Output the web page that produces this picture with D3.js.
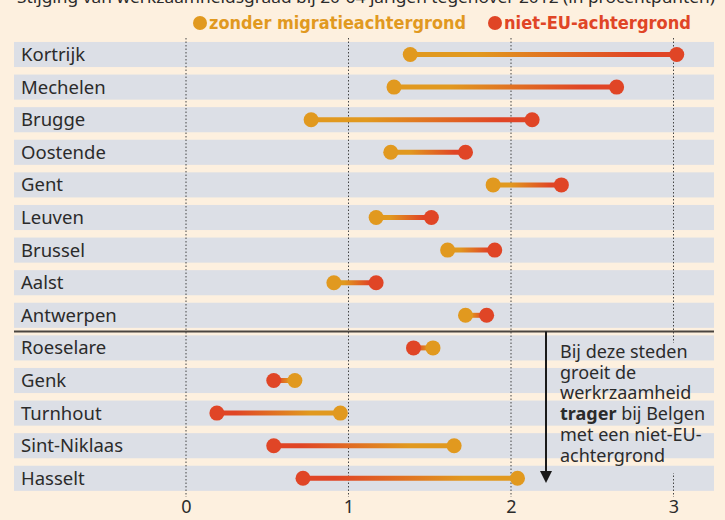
<!DOCTYPE html>
<html>
<head>
<meta charset="utf-8">
<script src="https://cdn.jsdelivr.net/npm/d3@7"></script>
<style>
  body { margin: 0; background: #fdf0df; }
  svg { display: block; }
</style>
</head>
<body>
<svg id="chart" width="725" height="520"></svg>
<script>
// data
const cities = ['Kortrijk', 'Mechelen', 'Brugge', 'Oostende', 'Gent', 'Leuven', 'Brussel', 'Aalst', 'Antwerpen',
  'Roeselare', 'Genk', 'Turnhout', 'Sint-Niklaas', 'Hasselt'];
const zonderMigratie = [1.38, 1.28, 0.77, 1.26, 1.89, 1.17, 1.61, 0.91, 1.72, 1.52, 0.67, 0.95, 1.65, 2.04];
const nietEU = [3.02, 2.65, 2.13, 1.72, 2.31, 1.51, 1.90, 1.17, 1.85, 1.40, 0.54, 0.19, 0.54, 0.72];
const xTicks = [0, 1, 2, 3];
const splitAfter = 'Antwerpen';

const orange = '#e1991f';
const red = '#e04526';
const textCol = '#2b2b2b';

const svg = d3.select('#chart');
const W = 725, H = 520;

const x = d3.scaleLinear().domain([0, 3]).range([186, 673.5]);
const y = d3.scaleBand().domain(cities).range([38.2, 494.6]).paddingInner(0.23).paddingOuter(0.115);

const rowLeft = 14, rowRight = 714;

// title (cut off at the top, as in the source)
svg.append('text')
  .attr('x', 17).attr('y', 3)
  .style('font-family', 'Noto Sans').style('font-size', '17px').style('fill', textCol)
  .attr('textLength', 698).attr('lengthAdjust', 'spacingAndGlyphs')
  .text('Stijging van werkzaamheidsgraad bij 20-64 jarigen tegenover 2012 (in procentpunten)');

// legend
const legend = [
  { label: 'zonder migratieachtergrond', color: orange, x: 200, w: 257 },
  { label: 'niet-EU-achtergrond', color: red, x: 495, w: 187 }
];
legend.forEach(l => {
  svg.append('circle').attr('cx', l.x).attr('cy', 23).attr('r', 7).style('fill', l.color);
  svg.append('text')
    .attr('x', l.x + 9).attr('y', 29)
    .attr('textLength', l.w).attr('lengthAdjust', 'spacingAndGlyphs')
    .style('font-family', "'DejaVu Sans Condensed', 'Liberation Sans Narrow', 'Noto Sans'")
    .style('font-weight', 'bold')
    .style('font-size', '18px').style('fill', l.color)
    .text(l.label);
});

// row bands
svg.append('g').selectAll('rect')
  .data(cities)
  .enter().append('rect')
  .attr('x', rowLeft).attr('width', rowRight - rowLeft)
  .attr('y', d => y(d)).attr('height', y.bandwidth())
  .style('fill', '#dcdfe6');

// gridlines, interrupted by the annotation
const defs = svg.append('defs');
const clip = defs.append('clipPath').attr('id', 'grid-clip');
clip.append('rect').attr('x', 0).attr('y', 0).attr('width', W).attr('height', 343);
clip.append('rect').attr('x', 0).attr('y', 473).attr('width', W).attr('height', H - 473);
clip.append('rect').attr('x', 0).attr('y', 0).attr('width', 550).attr('height', H);

svg.append('g')
  .attr('clip-path', 'url(#grid-clip)')
  .selectAll('line')
  .data(xTicks)
  .enter().append('line')
  .attr('x1', d => x(d)).attr('x2', d => x(d))
  .attr('y1', 38).attr('y2', 497)
  .style('stroke', '#444').style('stroke-width', 1).style('stroke-dasharray', '1.5,2');

// x axis labels
svg.append('g')
  .attr('transform', 'translate(0,513)')
  .call(d3.axisBottom(x).tickValues(xTicks).tickSize(0).tickPadding(0).tickFormat(d3.format('d')))
  .call(g => g.select('.domain').remove())
  .call(g => g.selectAll('text')
    .attr('dy', 0)
    .style('font-family', 'Noto Sans').style('font-size', '18px').style('fill', textCol));

// city labels
svg.append('g').selectAll('text')
  .data(cities)
  .enter().append('text')
  .attr('x', 21)
  .attr('y', d => y(d) + y.bandwidth() / 2 + 6.5)
  .style('font-family', 'Noto Sans').style('font-size', '18.5px').style('fill', textCol)
  .text(d => d);

// divider
const splitY = y(splitAfter) + y.bandwidth() + (y.step() - y.bandwidth()) / 2;
svg.append('line')
  .attr('x1', rowLeft).attr('x2', rowRight)
  .attr('y1', splitY).attr('y2', splitY)
  .style('stroke', '#4a4540').style('stroke-width', 2);

// dumbbells with gradient from orange to red
const rows = cities.map((c, i) => ({ city: c, a: zonderMigratie[i], b: nietEU[i], i }));

rows.forEach(r => {
  const grad = defs.append('linearGradient')
    .attr('id', 'grad' + r.i)
    .attr('gradientUnits', 'userSpaceOnUse')
    .attr('x1', x(r.a)).attr('x2', x(r.b)).attr('y1', 0).attr('y2', 0);
  grad.append('stop').attr('offset', '0%').attr('stop-color', orange);
  grad.append('stop').attr('offset', '25%').attr('stop-color', orange);
  grad.append('stop').attr('offset', '85%').attr('stop-color', red);
  grad.append('stop').attr('offset', '100%').attr('stop-color', red);
});

const dumb = svg.append('g').selectAll('g')
  .data(rows)
  .enter().append('g')
  .attr('transform', d => 'translate(0,' + (y(d.city) + y.bandwidth() / 2) + ')');

dumb.append('line')
  .attr('x1', d => x(d.a)).attr('x2', d => x(d.b))
  .style('stroke', d => 'url(#grad' + d.i + ')')
  .style('stroke-width', 5);

dumb.append('circle')
  .attr('cx', d => x(d.a)).attr('r', 7.5)
  .style('fill', orange);

dumb.append('circle')
  .attr('cx', d => x(d.b)).attr('r', 7.5)
  .style('fill', red);

// annotation arrow
const arrowX = 546;
svg.append('line')
  .attr('x1', arrowX).attr('x2', arrowX)
  .attr('y1', splitY).attr('y2', 472)
  .style('stroke', '#1a1a1a').style('stroke-width', 2);
svg.append('path')
  .attr('d', d3.line()([[arrowX - 6, 471], [arrowX + 6, 471], [arrowX, 483]]))
  .style('fill', '#1a1a1a');

const noteLines = [
  [{ t: 'Bij deze steden' }],
  [{ t: 'groeit de' }],
  [{ t: 'werkrzaamheid' }],
  [{ t: 'trager', b: true }, { t: ' bij Belgen' }],
  [{ t: 'met een niet-EU-' }],
  [{ t: 'achtergrond' }]
];
const note = svg.append('text')
  .style('font-family', 'Noto Sans').style('font-size', '18px').style('fill', textCol);
noteLines.forEach((ln, i) => {
  ln.forEach((part, j) => {
    const ts = note.append('tspan').text(part.t);
    if (j === 0) ts.attr('x', 560).attr('y', 358 + i * 20.7);
    if (part.b) ts.style('font-weight', 'bold');
  });
});
</script>
</body>
</html>
